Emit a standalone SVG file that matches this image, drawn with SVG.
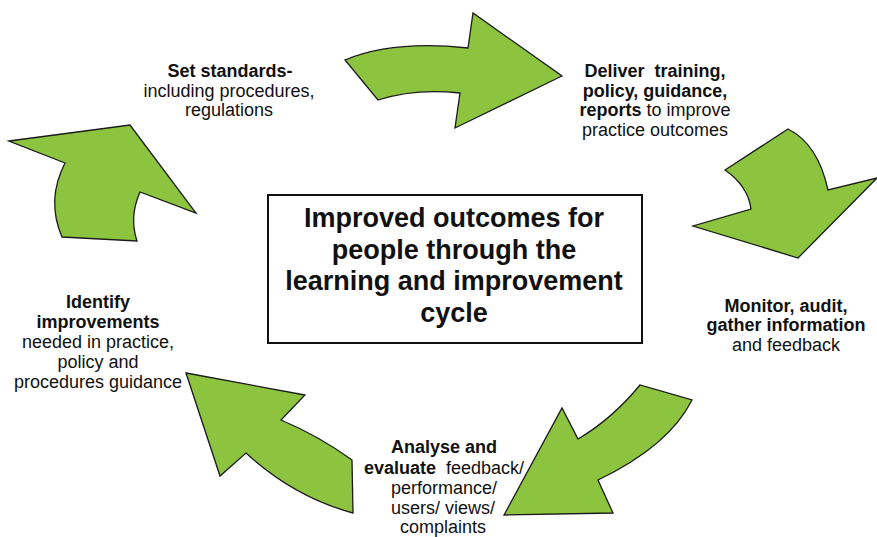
<svg xmlns="http://www.w3.org/2000/svg" width="877" height="537" viewBox="0 0 877 537">
<style>
.arrow{fill:#8cc43f;stroke:#1a1a1a;stroke-width:1.3;stroke-linejoin:miter}
.lbl{font-family:"Liberation Sans",Arial,sans-serif;font-size:18px;fill:#111;text-anchor:middle}
.b{font-weight:bold}
.center{font-family:"Liberation Sans",Arial,sans-serif;font-size:27px;font-weight:bold;fill:#111;text-anchor:middle}
</style>
<rect width="877" height="537" fill="#fff"/>
<g id="connectors">
<path class="arrow" d="M345,60 Q393,40 468,48 L473,13 L562,76 L455,128 L460,93 Q415,88 378,100 Z"/>
<path class="arrow" d="M725,170 L788,129 Q818,144 828,190 L877,178 L798,258 L693,226 L751,209 Q748,186 725,170 Z"/>
<path class="arrow" d="M640,385 Q612,419 578,439 L562,408 L504,515 L613,513 L598,480 Q669,446 692,400 Z"/>
<path class="arrow" d="M186,373 L305,395 L281,420 Q319,436 352,460 L353,513 Q294,497 246,453 L220,476 Z"/>
<path class="arrow" d="M9,141 L130,125 L196,213 L140,192 Q129,217 137,241 L62,237 Q46,200 65,163 Z"/>
</g>
<g id="center">
<rect x="268" y="195" width="374" height="148" fill="#fff" stroke="#111" stroke-width="2"/>
<text class="center" x="454" y="227">Improved outcomes for</text>
<text class="center" x="454" y="258.5">people through the</text>
<text class="center" x="454" y="290">learning and improvement</text>
<text class="center" x="454" y="321.5">cycle</text>
</g>
<g id="set-standards">
<text class="lbl b" x="230" y="77">Set standards-</text>
<text class="lbl" x="229" y="97">including procedures,</text>
<text class="lbl" x="229" y="116">regulations</text>
</g>
<g id="deliver">
<text class="lbl b" x="655" y="77" xml:space="preserve">Deliver  training,</text>
<text class="lbl b" x="655" y="96.5">policy, guidance,</text>
<text class="lbl" x="655" y="116"><tspan class="b">reports</tspan> to improve</text>
<text class="lbl" x="655" y="136">practice outcomes</text>
</g>
<g id="monitor">
<text class="lbl b" x="786" y="311.5">Monitor, audit,</text>
<text class="lbl b" x="786" y="331">gather information</text>
<text class="lbl" x="786" y="351">and feedback</text>
</g>
<g id="analyse">
<text class="lbl b" x="444" y="453">Analyse and</text>
<text class="lbl" x="444" y="474" xml:space="preserve"><tspan class="b">evaluate</tspan>  feedback/</text>
<text class="lbl" x="444" y="494">performance/</text>
<text class="lbl" x="443" y="513.5">users/ views/</text>
<text class="lbl" x="443" y="532.5">complaints</text>
</g>
<g id="identify">
<text class="lbl b" x="98" y="308">Identify</text>
<text class="lbl b" x="98" y="328">improvements</text>
<text class="lbl" x="98" y="348">needed in practice,</text>
<text class="lbl" x="98" y="368">policy and</text>
<text class="lbl" x="98" y="388">procedures guidance</text>
</g>
</svg>
